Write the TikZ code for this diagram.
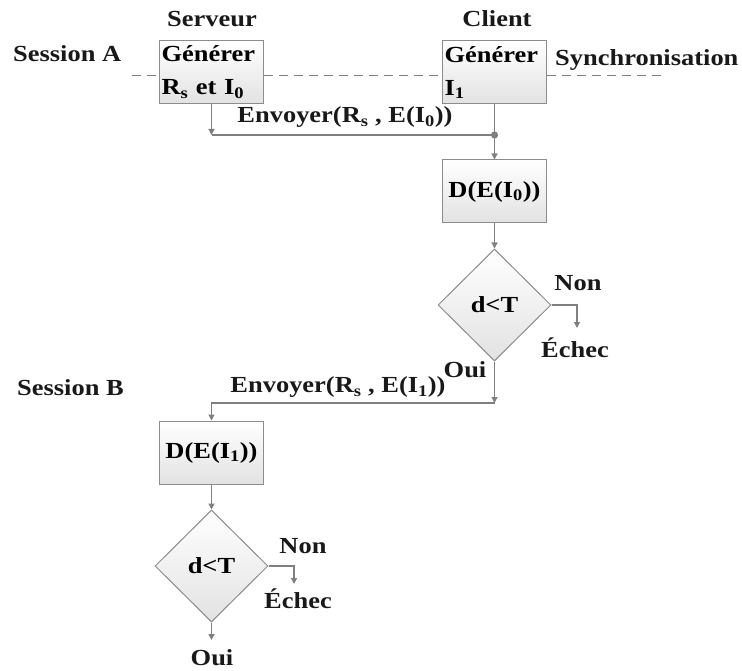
\documentclass[tikz,border=0pt]{standalone}
\usepackage{fontspec}
\setmainfont[FakeStretch=1.15]{Liberation Serif}
\usetikzlibrary{shapes.geometric,arrows.meta}
\definecolor{edgegray}{HTML}{7F7F7F}
\definecolor{rimgray}{HTML}{8C8C8C}
\definecolor{fillgray}{HTML}{E2E2E2}
\tikzset{
  lbl/.style={font=\fontsize{23}{30}\selectfont\bfseries, inner sep=0pt, text=black!90},
  stepbox/.style={draw=rimgray, line width=1pt, top color=white, bottom color=fillgray,
    minimum width=104pt, minimum height=63pt, inner sep=1.5pt,
    font=\fontsize{23}{33}\selectfont\bfseries},
  decision/.style={diamond, draw=rimgray, line width=1pt, top color=white, bottom color=fillgray,
    minimum width=113pt, minimum height=112pt, inner sep=0pt,
    font=\fontsize{23}{30}\selectfont\bfseries},
  conn/.style={draw=edgegray, line width=1.3pt},
  arr/.style={conn, -{Triangle[length=6pt,width=6pt]}},
  sync/.style={draw=edgegray, line width=1pt, dash pattern=on 9pt off 6pt}
}
\begin{document}
\begin{tikzpicture}[x=1pt,y=-1pt]
\useasboundingbox (0,0) rectangle (742,671);

% column headings
\node[lbl] (serv) at (212,19) {Serveur};
\node[lbl] (cli) at (497,19) {Client};
\node[lbl, anchor=west] (sesA) at (13,54) {Session A};
\node[lbl, anchor=west] (sync) at (555,60) {Synchronisation};

% generation steps
\node[stepbox, text width=100pt, align=left] (gen0) at (211.5,72)
  {Générer\\R\textsubscript{s} et I\textsubscript{0}};
\node[stepbox, text width=100pt, align=left] (gen1) at (494.5,72.5)
  {Générer\\I\textsubscript{1}};

% synchronisation line
\coordinate (sL) at (132,76);
\coordinate (sR) at (663,76);
\draw[sync] (sL) -- (gen0.west |- sL);
\draw[sync] (gen0.east |- sL) -- (gen1.west |- sL);
\draw[sync] (gen1.east |- sL) -- (sR);

% session A
\coordinate (j1) at (494.5,135);
\node[lbl] (send0) at (345,117) {Envoyer(R\textsubscript{s} , E(I\textsubscript{0}))};
\node[stepbox] (dec0) at (494.5,191.5) {D(E(I\textsubscript{0}))};
\node[decision] (test0) at (494.5,305) {d<T};
\draw[arr] (gen0.south) -- (gen0.south |- j1);
\draw[conn] (gen0.south |- j1) -- (j1);
\draw[arr] (gen1.south) -- (dec0.north);
\fill[edgegray] (j1) circle (3.6pt);
\draw[arr] (dec0.south) -- (test0.north);

\coordinate (f0) at (577,328);
\draw[arr] (test0.east) -| (f0);
\node[lbl] (non0) at (578,283) {Non};
\node[lbl] (ech0) at (575,348) {Échec};
\node[lbl] (oui0) at (465,370) {Oui};

% session B
\coordinate (j2) at (494.5,403);
\draw[arr] (test0.south) -- (j2);
\node[lbl] (send1) at (338,387) {Envoyer(R\textsubscript{s} , E(I\textsubscript{1}))};
\node[lbl, anchor=west] (sesB) at (17,388) {Session B};
\node[stepbox] (dec1) at (211.5,452.5) {D(E(I\textsubscript{1}))};
\draw[arr] (j2) -| (dec1.north);
\node[decision] (test1) at (211.5,566) {d<T};
\draw[arr] (dec1.south) -- (test1.north);

\coordinate (f1) at (294,584);
\draw[arr] (test1.east) -| (f1);
\node[lbl] (non1) at (303,546) {Non};
\node[lbl] (ech1) at (298,599) {Échec};
\coordinate (o1) at (211.5,640);
\draw[arr] (test1.south) -- (o1);
\node[lbl] (oui1) at (212,658) {Oui};
\end{tikzpicture}
\end{document}
